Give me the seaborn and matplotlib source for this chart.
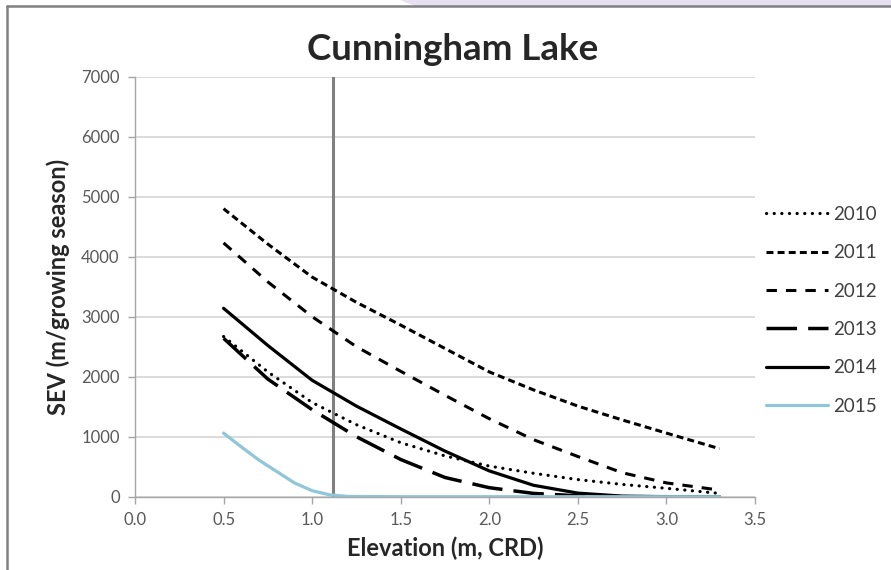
import matplotlib
matplotlib.use("Agg")
import matplotlib.pyplot as plt
import seaborn as sns
import pandas as pd
from matplotlib.lines import Line2D
from matplotlib.patches import Polygon

# ---- data ----
title = "Cunningham Lake"
x_label = "Elevation (m, CRD)"
y_label = "SEV (m/growing season)"
years = ["2010", "2011", "2012", "2013", "2014", "2015"]

elev = [0.5, 0.75, 1.0, 1.25, 1.5, 1.75, 2.0, 2.25, 2.5, 2.75, 3.0, 3.3]
sev_2010 = [2670, 2080, 1570, 1200, 900, 680, 510, 390, 285, 205, 140, 55]
sev_2011 = [4800, 4210, 3660, 3240, 2860, 2470, 2080, 1780, 1510, 1280, 1060, 800]
sev_2012 = [4230, 3580, 3000, 2500, 2090, 1690, 1300, 950, 670, 400, 230, 110]
sev_2013 = [2640, 1960, 1450, 1000, 620, 320, 150, 55, 15, 0, 0, 0]
sev_2014 = [3140, 2520, 1940, 1510, 1130, 760, 430, 190, 60, 10, 0, 0]
elev_2015 = [0.5, 0.6, 0.7, 0.8, 0.9, 1.0, 1.1, 1.2, 1.5, 2.0, 2.5, 3.0, 3.3]
sev_2015 = [1060, 830, 610, 420, 230, 100, 30, 5, 0, 0, 0, 0, 0]

ref_elev = 1.12
x_ticks = [0.0, 0.5, 1.0, 1.5, 2.0, 2.5, 3.0, 3.5]
y_ticks = [0, 1000, 2000, 3000, 4000, 5000, 6000, 7000]

# ---- style ----
sns.set_style("white")
plt.rcParams["font.family"] = ["Lato", "DejaVu Sans"]
plt.rcParams["lines.scale_dashes"] = False

fig = plt.figure(figsize=(8.91, 5.70), dpi=100)
ax = fig.add_axes([135 / 891, 1 - 496.7 / 570, 620 / 891, 420 / 570])

series = [
    (elev, sev_2010, dict(color="black", lw=2.3, linestyle=(0, (0.1, 5.4)), dash_capstyle="round")),
    (elev, sev_2011, dict(color="black", lw=2.2, linestyle=(0, (5.0, 3.0)), dash_capstyle="butt")),
    (elev, sev_2012, dict(color="black", lw=2.2, linestyle=(0, (7.5, 6.5)), dash_capstyle="butt")),
    (elev, sev_2013, dict(color="black", lw=2.5, linestyle=(0, (22, 8)), dash_capstyle="butt")),
    (elev, sev_2014, dict(color="black", lw=2.3, linestyle="-")),
    (elev_2015, sev_2015, dict(color="#8fc6d8", lw=2.3, linestyle="-")),
]

handles = []
for yr, (xs, ys, kw) in zip(years, series):
    df = pd.DataFrame({"x": xs, "y": ys})
    sns.lineplot(data=df, x="x", y="y", ax=ax, legend=False, **kw)
    handles.append(ax.lines[-1])

ax.axvline(ref_elev, color="#808080", lw=2.2, zorder=1.5)

ax.set_xlim(0, 3.5)
ax.set_ylim(0, 7000)
ax.set_xticks(x_ticks)
ax.set_xticklabels([f"{v:.1f}" for v in x_ticks])
ax.set_yticks(y_ticks)
ax.set_yticklabels([str(v) for v in y_ticks])
ax.yaxis.grid(True, color="#d4d4d4", lw=1.2)
ax.xaxis.grid(False)
ax.set_axisbelow(True)
for s in ["top", "right"]:
    ax.spines[s].set_visible(False)
for s in ["left", "bottom"]:
    ax.spines[s].set_color("#a6a6a6")
    ax.spines[s].set_linewidth(1.0)
ax.tick_params(axis="both", which="major", direction="out", length=5, width=1,
               color="#a6a6a6", labelsize=12, labelcolor="#595959", pad=6,
               left=True, bottom=True)

ax.set_xlabel(x_label, fontsize=17, fontweight="bold", labelpad=6)
ax.set_ylabel(y_label, fontsize=17, fontweight="bold", labelpad=8)
fig.text(453 / 891, 1 - 49 / 570, title, fontsize=26.5, fontweight="bold",
         ha="center", va="center")

leg = fig.legend(handles, years, loc="upper left",
                 bbox_to_anchor=(749 / 891, 1 - 189 / 570),
                 frameon=False, fontsize=13.5, handlelength=3.3,
                 handletextpad=0.3, labelspacing=1.14, labelcolor="#404040")

# ---- frame of the screenshot ----
fig.add_artist(Polygon([[400 / 891, 1.0], [1.0, 1.0], [1.0, 1 - 6 / 570], [415 / 891, 1 - 6 / 570]],
                       closed=True, transform=fig.transFigure, facecolor="#e6e0f0",
                       edgecolor="none", zorder=0))
fig.add_artist(Line2D([7 / 891, 1.0], [1 - 6 / 570, 1 - 6 / 570], transform=fig.transFigure,
                      color="#808080", lw=1.8))
fig.add_artist(Line2D([7 / 891, 7 / 891], [0, 1 - 6 / 570], transform=fig.transFigure,
                      color="#808080", lw=1.8))

fig.savefig("out.png", dpi=100)
